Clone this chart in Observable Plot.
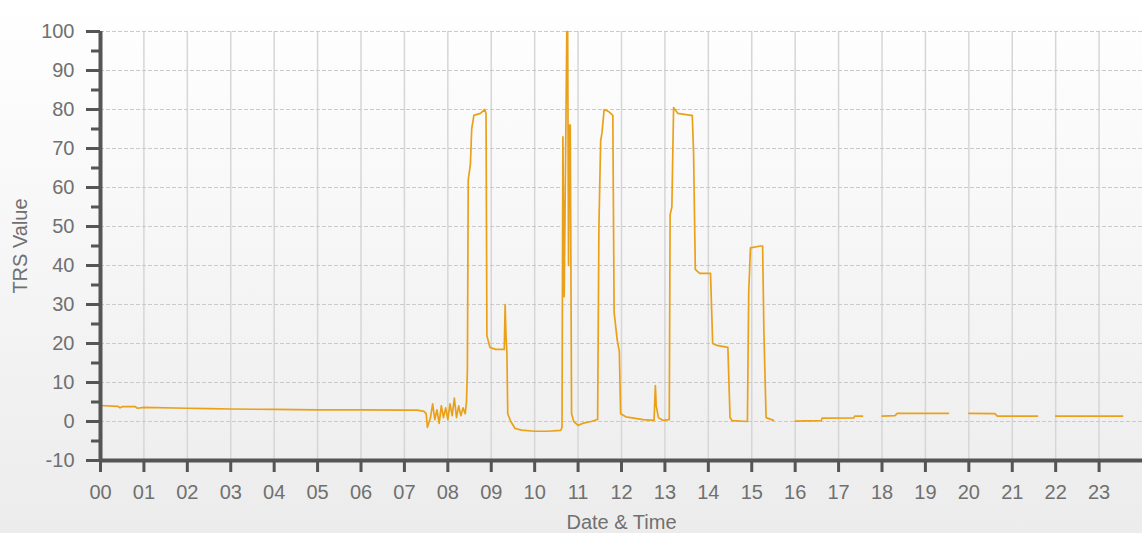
<!DOCTYPE html>
<html><head><meta charset="utf-8">
<script src="https://cdn.jsdelivr.net/npm/d3@7"></script>
<script src="https://cdn.jsdelivr.net/npm/@observablehq/plot@0.6"></script>
<style>
html,body{margin:0;padding:0;}
body{width:1142px;height:533px;background:linear-gradient(#ffffff,#ececec);overflow:hidden;}
</style></head><body><div id="chart"></div>
<script>
// Time of day in hours, and TRS value (null = gap in the record)
const hours = [
  0, 0.4, 0.45, 0.5, 0.8, 0.85, 1, 2, 2.5, 3, 4, 5, 6, 7, 7.3, 7.45, 7.5, 7.53, 7.6, 7.65, 7.7, 7.75, 7.8, 7.85, 7.9, 7.95,
  8.0, 8.05, 8.1, 8.15, 8.2, 8.25, 8.3, 8.35, 8.4, 8.43, 8.45, 8.47, 8.52, 8.55, 8.6, 8.75, 8.85, 8.88, 8.9, 8.97,
  9.1, 9.3, 9.32, 9.34, 9.36, 9.38, 9.45, 9.55, 9.7, 10, 10.3, 10.6, 10.63, 10.65, 10.68, 10.71, 10.74, 10.76,
  10.78, 10.8, 10.82, 10.85, 10.9, 11.0, 11.1, 11.3, 11.45, 11.48, 11.52, 11.55, 11.6, 11.7, 11.8, 11.83, 11.9,
  11.95, 11.98, 12.1, 12.5, 12.75, 12.78, 12.8, 12.85, 12.95, 13.1, 13.12, 13.16, 13.2, 13.3, 13.6, 13.63, 13.66,
  13.7, 13.8, 14.05, 14.1, 14.2, 14.45, 14.5, 14.55, 14.9, 14.93, 14.97, 15.2, 15.25, 15.28, 15.33, 15.5,
  15.75,
  16.0, 16.6, 16.62, 17.35, 17.37, 17.55,
  17.8,
  18.0, 18.3, 18.35, 19.53,
  19.8,
  20.0, 20.6, 20.65, 21.58,
  21.8,
  22.0, 23.54
];
const trs = [
  4.1, 3.9, 3.5, 3.8, 3.8, 3.4, 3.6, 3.4, 3.3, 3.2, 3.1, 3.0, 3.0, 2.9, 2.9, 2.6, 2.0, -1.5, 1.0, 4.5, 0.5, 3.0, -0.5, 4.0, 1.0, 3.5,
  0.5, 4.5, 1.5, 6.0, 1.0, 4.0, 1.5, 3.5, 2.0, 5, 13, 62, 66, 75, 78.5, 79, 80, 79, 22, 19,
  18.5, 18.5, 30, 22, 18, 2, 0, -1.8, -2.2, -2.5, -2.5, -2.3, -1.5, 73, 32, 65, 100, 100,
  40, 76, 76, 2, 0, -1, -0.5, 0, 0.5, 50, 72, 74, 80, 79.5, 78.5, 28, 21,
  18, 2, 1.2, 0.5, 0.3, 9.2, 4, 1, 0.3, 0.5, 53, 55, 80.5, 79, 78.5, 78.5, 69,
  39, 38, 38, 20, 19.5, 19, 1, 0.2, 0, 33, 44.5, 45, 45, 23, 1, 0.3,
  null,
  0.1, 0.2, 0.85, 0.9, 1.4, 1.4,
  null,
  1.4, 1.5, 2.1, 2.1,
  null,
  2.1, 2.0, 1.4, 1.4,
  null,
  1.4, 1.4
];
const xTicks = d3.range(0, 24);
const xTickLabels = ["00","01","02","03","04","05","06","07","08","09","10","11","12","13","14","15","16","17","18","19","20","21","22","23"];
const yTicks = d3.range(-10, 101, 10);
const yMinorTicks = d3.range(-5, 100, 10);
const xTitle = "Date & Time";
const yTitle = "TRS Value";

const data = hours.map((h, i) => ({hour: h, value: trs[i]}));

const plot = Plot.plot({
  width: 1142, height: 533,
  marginLeft: 100, marginRight: 0, marginTop: 31, marginBottom: 73,
  style: {background: "transparent", fontFamily: "'Liberation Sans', Arial, sans-serif", fontSize: "20px", color: "#707070"},
  x: {domain: [0, 24]},
  y: {domain: [-10, 100]},
  marks: [
    Plot.gridX(xTicks, {stroke: "#d6d6d6", strokeOpacity: 1, strokeWidth: 1.5}),
    Plot.gridY(yTicks, {stroke: "#cacaca", strokeOpacity: 1, strokeWidth: 1.2, strokeDasharray: "4,2"}),
    Plot.lineY(data, {x: "hour", y: "value", stroke: "#eaa11a", strokeWidth: 1.7, curve: "linear"}),
    Plot.axisX(xTicks, {tickSize: 12, tickPadding: 12, stroke: "#555", strokeWidth: 3, fill: "#707070",
      tickFormat: d => xTickLabels[xTicks.indexOf(d)], label: null}),
    Plot.axisY(yTicks, {tickSize: 14, tickPadding: 12, stroke: "#555", strokeWidth: 3, fill: "#707070",
      tickFormat: d => String(d), label: null}),
    Plot.axisY(yMinorTicks, {tickSize: 9, stroke: "#555", strokeWidth: 3, tickFormat: () => "", label: null}),
    Plot.ruleX([0], {stroke: "#555", strokeWidth: 4}),
    Plot.ruleY([-10], {stroke: "#555", strokeWidth: 4}),
    Plot.text([xTitle], {frameAnchor: "bottom", dy: 68, fill: "#707070", fontSize: 20}),
    Plot.text([yTitle], {frameAnchor: "left", textAnchor: "middle", dx: -80, rotate: -90, fill: "#707070", fontSize: 20})
  ]
});
document.getElementById("chart").appendChild(plot);
</script>
</body></html>
